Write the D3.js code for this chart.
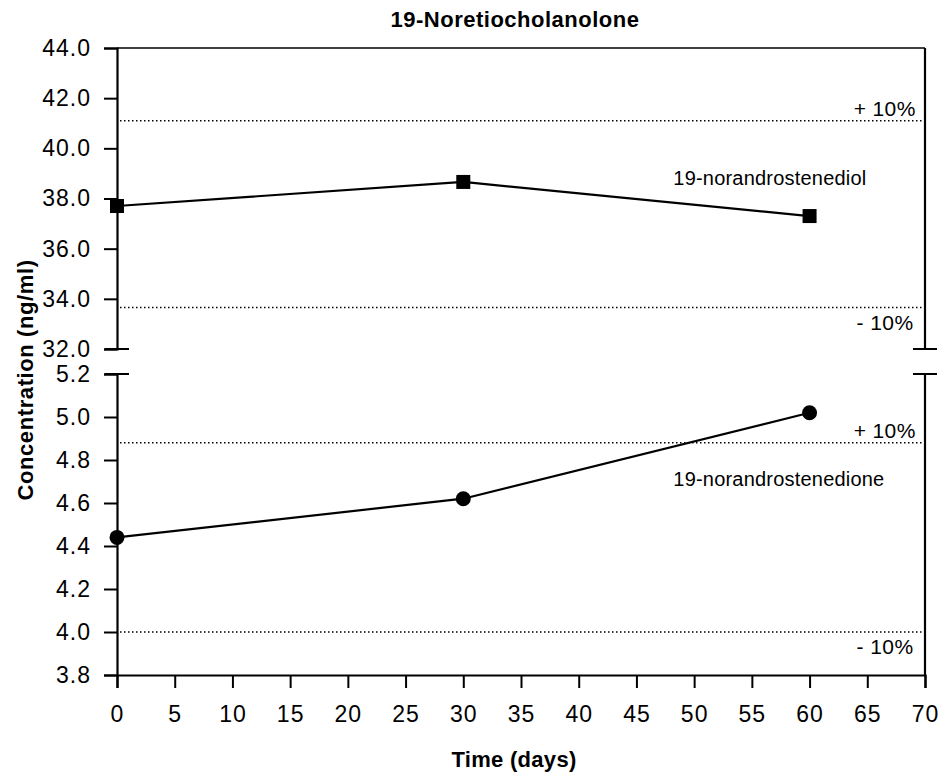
<!DOCTYPE html>
<html>
<head>
<meta charset="utf-8">
<style>
  body { margin: 0; background: #fff; }
  svg { display: block; font-family: "Liberation Sans", Arial, sans-serif; }
</style>
</head>
<body>
<svg width="947" height="776"></svg>
<script src="https://cdn.jsdelivr.net/npm/d3@7"></script>
<script>
// data
var days = [0, 30, 60];
var diol = [37.7, 38.66, 37.3];       // 19-norandrostenediol (squares)
var dione = [4.44, 4.62, 5.02];       // 19-norandrostenedione (circles)
var diolLimits = [41.1, 33.65];       // +10% / -10%
var dioneLimits = [4.88, 4.0];
var xTicks = d3.range(0, 75, 5);
var upperTicks = [32, 34, 36, 38, 40, 42, 44];
var lowerTicks = [3.8, 4.0, 4.2, 4.4, 4.6, 4.8, 5.0, 5.2];

var svg = d3.select('svg');
var margin = {left: 117, right: 22, top: 48, bottom: 101};
var width = +svg.attr('width') - margin.left - margin.right;
var height = +svg.attr('height') - margin.top - margin.bottom;
var gap = 25;
var panelH = (height - gap) / 2;

var g = svg.append('g')
    .attr('transform', `translate(${margin.left}, ${margin.top})`);

var x = d3.scaleLinear().domain([0, 70]).range([0, width]);
var yUp = d3.scaleLinear().domain([32, 44]).range([panelH, 0]);
var yLo = d3.scaleLinear().domain([3.8, 5.2]).range([height, panelH + gap]);

// y axes
function yAxis(scale, ticks, fmt) {
    var ax = g.append('g')
        .call(d3.axisLeft(scale).tickValues(ticks).tickFormat(d3.format(fmt)).tickSize(13).tickPadding(13));
    ax.select('.domain').attr('stroke-width', 2.2);
    ax.selectAll('.tick line').attr('stroke-width', 2);
    ax.selectAll('.tick text').attr('font-size', 23).attr('letter-spacing', 1).attr('fill', '#000');
    return ax;
}
yAxis(yUp, upperTicks, '.1f');
yAxis(yLo, lowerTicks, '.1f');

// right side frame
g.append('line').attr('x1', width).attr('x2', width).attr('y1', 0).attr('y2', panelH)
    .attr('stroke', '#000').attr('stroke-width', 2.2);
g.append('line').attr('x1', width).attr('x2', width).attr('y1', panelH + gap).attr('y2', height)
    .attr('stroke', '#000').attr('stroke-width', 2.2);
g.append('line').attr('x1', 0).attr('x2', width).attr('y1', 0).attr('y2', 0)
    .attr('stroke', '#000').attr('stroke-width', 1.5);

// break marks
[0, width].forEach(function (bx) {
    [panelH, panelH + gap].forEach(function (by) {
        g.append('line').attr('x1', bx - 12).attr('x2', bx + 12).attr('y1', by).attr('y2', by)
            .attr('stroke', '#000').attr('stroke-width', 2);
    });
});

// x axis
var xa = g.append('g')
    .attr('transform', `translate(0, ${height})`)
    .call(d3.axisBottom(x).tickValues(xTicks).tickSize(13).tickPadding(18));
xa.select('.domain').attr('stroke-width', 2.2);
xa.selectAll('.tick line').attr('stroke-width', 2);
xa.selectAll('.tick text').attr('font-size', 23).attr('letter-spacing', 1).attr('fill', '#000');

// +/-10% dotted lines
function limits(scale, vals) {
    g.selectAll(null).data(vals).enter().append('line')
        .attr('x1', 3).attr('x2', width)
        .attr('y1', function (d) { return scale(d); })
        .attr('y2', function (d) { return scale(d); })
        .attr('stroke', '#000').attr('stroke-width', 1.5)
        .attr('stroke-dasharray', '1.5,2.5');
    g.append('text').attr('x', x(69.2)).attr('y', scale(vals[0]) - 5)
        .attr('text-anchor', 'end').attr('font-size', 21).attr('letter-spacing', 0.4).text('+ 10%');
    g.append('text').attr('x', x(69.0)).attr('y', scale(vals[1]) + 22)
        .attr('text-anchor', 'end').attr('font-size', 21).attr('letter-spacing', 0.4).text('- 10%');
}
limits(yUp, diolLimits);
limits(yLo, dioneLimits);

// series
var line = d3.line();
g.append('path')
    .datum(days.map(function (d, i) { return [x(d), yUp(diol[i])]; }))
    .attr('fill', 'none').attr('stroke', '#000').attr('stroke-width', 2.2)
    .attr('d', line);
g.selectAll('.sq').data(days).enter().append('rect')
    .attr('x', function (d) { return x(d) - 7; })
    .attr('y', function (d, i) { return yUp(diol[i]) - 7; })
    .attr('width', 14).attr('height', 14).attr('fill', '#000');

g.append('path')
    .datum(days.map(function (d, i) { return [x(d), yLo(dione[i])]; }))
    .attr('fill', 'none').attr('stroke', '#000').attr('stroke-width', 2.2)
    .attr('d', line);
g.selectAll('.ci').data(days).enter().append('circle')
    .attr('cx', function (d) { return x(d); })
    .attr('cy', function (d, i) { return yLo(dione[i]); })
    .attr('r', 7.5).attr('fill', '#000');

// series labels
g.append('text').attr('x', x(48.2)).attr('y', yUp(diol[2]) - 31)
    .attr('font-size', 20).attr('letter-spacing', 0.2).text('19-norandrostenediol');
g.append('text').attr('x', x(48.2)).attr('y', yLo(dioneLimits[0]) + 43)
    .attr('font-size', 20).attr('letter-spacing', 0.2).text('19-norandrostenedione');

// titles
svg.append('text').attr('x', 515).attr('y', 27).attr('text-anchor', 'middle')
    .attr('font-size', 22).attr('letter-spacing', 0.5).attr('font-weight', 'bold').text('19-Noretiocholanolone');
svg.append('text').attr('x', 514).attr('y', 767).attr('text-anchor', 'middle')
    .attr('font-size', 22).attr('letter-spacing', 0.3).attr('font-weight', 'bold').text('Time (days)');
svg.append('text').attr('transform', 'translate(33, 380) rotate(-90)')
    .attr('text-anchor', 'middle')
    .attr('font-size', 22).attr('letter-spacing', 0.6).attr('font-weight', 'bold').text('Concentration (ng/ml)');
</script>
</body>
</html>
